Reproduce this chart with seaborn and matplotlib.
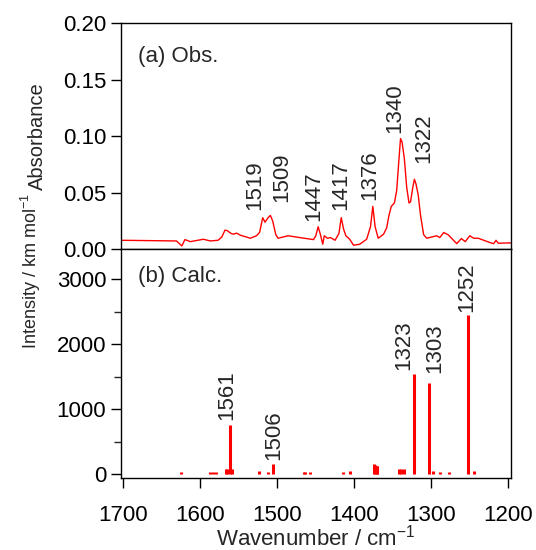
import numpy as np
import pandas as pd
import matplotlib
matplotlib.use('Agg')
import matplotlib.pyplot as plt
from matplotlib.ticker import MultipleLocator
import seaborn as sns

obs_wn = [1703, 1631, 1624, 1620, 1613, 1596, 1587, 1577, 1572, 1568, 1565, 1560,
          1557, 1553, 1548, 1535, 1527, 1523, 1519, 1516, 1512, 1509, 1506, 1502,
          1499, 1486, 1471, 1453, 1450, 1447, 1444, 1441, 1439, 1435, 1431, 1425,
          1420, 1417, 1414, 1411, 1406, 1401, 1393, 1384, 1379, 1376, 1373, 1369,
          1362, 1358, 1355, 1352, 1348, 1345, 1342, 1340, 1338, 1335, 1332, 1329,
          1327, 1324, 1322, 1320, 1317, 1314, 1310, 1306, 1293, 1289, 1284, 1278,
          1267, 1261, 1256, 1250, 1245, 1239, 1224, 1219, 1216, 1213, 1196]
obs_abs = [0.0080, 0.0074, 0.0030, 0.0086, 0.0068, 0.0089, 0.0074, 0.0080, 0.0110, 0.0170, 0.0165, 0.0140,
           0.0134, 0.0143, 0.0125, 0.0098, 0.0120, 0.0150, 0.0280, 0.0240, 0.0280, 0.0300, 0.0250, 0.0130,
           0.0098, 0.0120, 0.0104, 0.0086, 0.0120, 0.0200, 0.0130, 0.0045, 0.0120, 0.0098, 0.0104, 0.0080,
           0.0140, 0.0280, 0.0180, 0.0120, 0.0089, 0.0036, 0.0045, 0.0089, 0.0200, 0.0380, 0.0200, 0.0098,
           0.0134, 0.0190, 0.0300, 0.0380, 0.0410, 0.0520, 0.0800, 0.0980, 0.0950, 0.0800, 0.0550, 0.0410,
           0.0420, 0.0550, 0.0620, 0.0580, 0.0480, 0.0300, 0.0130, 0.0098, 0.0120, 0.0104, 0.0149, 0.0128,
           0.0050, 0.0095, 0.0068, 0.0120, 0.0098, 0.0098, 0.0060, 0.0050, 0.0080, 0.0054, 0.0057]

# calculated stick spectrum
calc_wn = [1625, 1587, 1584, 1579, 1567, 1566, 1561, 1559, 1524, 1512, 1506, 1465, 1464, 1458,
           1415, 1406, 1374, 1373, 1371, 1370, 1342, 1340, 1336, 1323, 1303, 1298, 1289, 1277,
           1252, 1245]
calc_int = [35, 35, 35, 35, 80, 70, 758, 70, 40, 35, 155, 35, 35, 35,
            35, 40, 150, 140, 130, 120, 80, 70, 70, 1541, 1402, 40, 35, 35,
            2443, 40]

# peak labels
obs_lab = ['1519', '1509', '1447', '1417', '1376', '1340', '1322']
obs_lab_x = [1529, 1494, 1453, 1418, 1380, 1348, 1310]
obs_lab_y = [0.035, 0.042, 0.025, 0.035, 0.044, 0.103, 0.076]
calc_lab = ['1561', '1506', '1323', '1303', '1252']
calc_lab_x = [1566, 1505, 1336, 1296, 1254]
calc_lab_y = [825, 216, 1608, 1557, 2497]

sns.set_theme(style='ticks')
plt.rcParams['font.family'] = ['Liberation Sans', 'DejaVu Sans']
plt.rcParams['mathtext.fontset'] = 'custom'
plt.rcParams['mathtext.rm'] = 'Liberation Sans'
plt.rcParams['mathtext.it'] = 'Liberation Sans'
fs = 16

fig = plt.figure(figsize=(5.36, 5.5), dpi=100)
ax1 = fig.add_axes([0.2252, 0.5467, 0.7282, 0.4109])
ax2 = fig.add_axes([0.2252, 0.1315, 0.7282, 0.4152])

df_obs = pd.DataFrame({'wn': obs_wn, 'abs': obs_abs})
sns.lineplot(data=df_obs, x='wn', y='abs', ax=ax1, color='#ff0000', lw=1.0)
ax2.vlines(calc_wn, 0, calc_int, color='#ff0000', lw=2.2)

for ax in (ax1, ax2):
    ax.set_xlim(1703.4, 1196.5)
    for s in ax.spines.values():
        s.set_linewidth(1.0)
        s.set_color('black')
    ax.tick_params(axis='both', labelsize=fs, length=7.5, width=1.0, pad=3,
                   colors='black')

ax1.set_ylim(0, 0.2)
ax1.yaxis.set_major_locator(MultipleLocator(0.05))
ax1.yaxis.set_major_formatter(plt.FormatStrFormatter('%.2f'))
ax1.tick_params(axis='x', bottom=False, labelbottom=False)
ax1.set_xlabel('')
ax1.set_ylabel('Absorbance', fontsize=14.5)
ax1.yaxis.set_label_coords(-0.19, 0.5)
ax1.text(0.0436, 0.855, '(a) Obs.', transform=ax1.transAxes, fontsize=fs,
         ha='left', va='center')

ax2.set_ylim(-57, 3460)
ax2.yaxis.set_major_locator(MultipleLocator(1000))
ax2.yaxis.set_minor_locator(MultipleLocator(500))
ax2.xaxis.set_major_locator(MultipleLocator(100))
ax2.tick_params(axis='y', which='minor', length=5, width=1.0)
ax2.tick_params(axis='x', pad=12)
ax2.set_xlabel('Wavenumber / cm$^{-1}$', fontsize=fs, labelpad=-1)
ax2.set_ylabel('Intensity / km mol$^{-1}$', fontsize=13)
ax2.yaxis.set_label_coords(-0.20, 0.905)
ax2.text(0.0436, 0.879, '(b) Calc.', transform=ax2.transAxes, fontsize=fs,
         ha='left', va='center')

for t, x, y in zip(obs_lab, obs_lab_x, obs_lab_y):
    ax1.text(x, y, t, rotation=90, ha='center', va='bottom', fontsize=fs)
for t, x, y in zip(calc_lab, calc_lab_x, calc_lab_y):
    ax2.text(x, y, t, rotation=90, ha='center', va='bottom', fontsize=fs)

fig.savefig('out.png', dpi=100)
